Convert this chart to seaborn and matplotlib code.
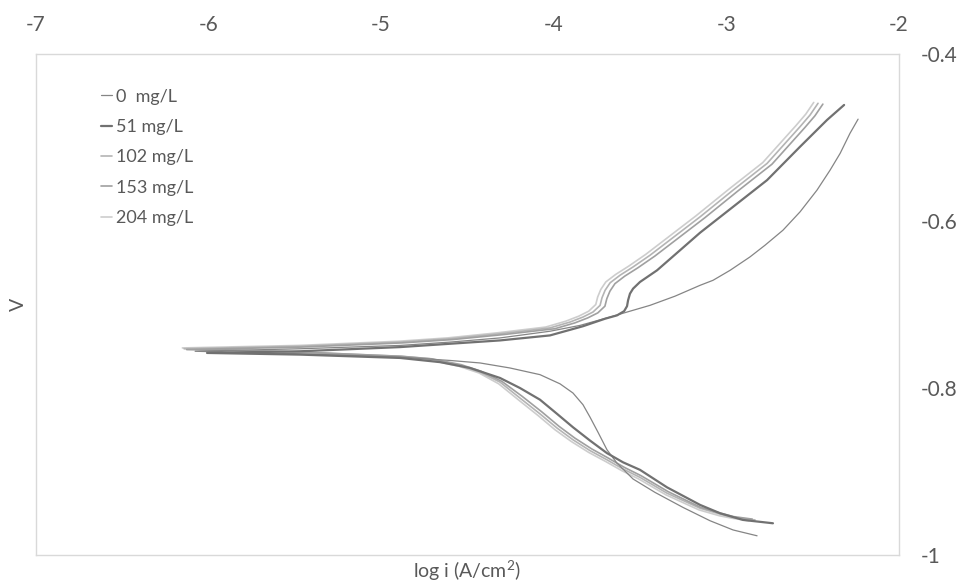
import matplotlib
matplotlib.use("Agg")
import matplotlib.pyplot as plt
import seaborn as sns
import pandas as pd
from matplotlib.lines import Line2D

sns.set_theme(style="white")
plt.rcParams['font.family'] = ['Lato', 'DejaVu Sans']
plt.rcParams['mathtext.fontset'] = 'custom'
plt.rcParams['mathtext.rm'] = 'Lato'
plt.rcParams['mathtext.it'] = 'Lato'

labels = ["0  mg/L", "51 mg/L", "102 mg/L", "153 mg/L", "204 mg/L"]
colors = ["#858585", "#717171", "#b4b4b4", "#a0a0a0", "#cdcdcd"]
widths = [0.9, 1.6, 1.2, 1.2, 1.2]

# log i (A/cm2) and potential (V): anodic end -> Ecorr -> cathodic end
x_0 = [-2.237, -2.284, -2.341, -2.399, -2.475, -2.573, -2.672, -2.776, -2.863, -2.978,
       -3.077, -3.152, -3.297, -3.442, -3.558, -3.673, -3.847, -4.021, -4.310, -4.600,
       -4.889, -5.468, -6.076,
       -5.468, -4.889, -4.600, -4.426, -4.253, -4.079, -3.963, -3.888, -3.830, -3.789,
       -3.743, -3.691, -3.633, -3.540, -3.413, -3.251, -3.094, -2.961, -2.822]
v_0 = [-0.478, -0.495, -0.519, -0.539, -0.563, -0.589, -0.611, -0.629, -0.643, -0.659,
       -0.671, -0.677, -0.690, -0.701, -0.708, -0.715, -0.725, -0.732, -0.740, -0.745,
       -0.749, -0.753, -0.756,
       -0.759, -0.763, -0.767, -0.770, -0.776, -0.784, -0.795, -0.806, -0.820, -0.835,
       -0.853, -0.874, -0.890, -0.909, -0.925, -0.943, -0.959, -0.970, -0.977]

x_51 = [-2.318, -2.417, -2.573, -2.764, -2.961, -3.152, -3.268, -3.401, -3.500, -3.540,
        -3.558, -3.569, -3.575, -3.592, -3.633, -3.702, -3.830, -4.021, -4.310, -4.600,
        -4.889, -5.468, -6.007,
        -5.468, -4.889, -4.658, -4.484, -4.310, -4.195, -4.079, -3.980, -3.888, -3.789,
        -3.691, -3.598, -3.500, -3.343, -3.152, -3.036, -2.903, -2.730]
v_51 = [-0.461, -0.479, -0.511, -0.551, -0.583, -0.614, -0.635, -0.659, -0.673, -0.681,
        -0.687, -0.695, -0.702, -0.708, -0.713, -0.717, -0.726, -0.737, -0.743, -0.747,
        -0.751, -0.756, -0.758,
        -0.760, -0.764, -0.769, -0.776, -0.788, -0.800, -0.814, -0.831, -0.847, -0.863,
        -0.878, -0.889, -0.898, -0.919, -0.940, -0.950, -0.958, -0.962]

x_102 = [-2.469, -2.515, -2.573, -2.764, -2.961, -3.152, -3.297, -3.442, -3.540, -3.616,
         -3.673, -3.702, -3.720, -3.731, -3.772, -3.830, -3.905, -4.021, -4.310, -4.600,
         -4.889, -5.468, -6.140,
         -5.468, -4.889, -4.716, -4.542, -4.426, -4.310, -4.195, -4.079, -3.980, -3.888,
         -3.789, -3.691, -3.598, -3.500, -3.343, -3.152, -3.036, -2.961, -2.834]
v_102 = [-0.459, -0.473, -0.487, -0.531, -0.563, -0.595, -0.618, -0.641, -0.655, -0.665,
         -0.674, -0.683, -0.692, -0.701, -0.709, -0.715, -0.721, -0.728, -0.735, -0.741,
         -0.745, -0.750, -0.753,
         -0.757, -0.762, -0.765, -0.773, -0.781, -0.793, -0.812, -0.831, -0.848, -0.862,
         -0.875, -0.886, -0.897, -0.907, -0.926, -0.944, -0.951, -0.955, -0.958]

x_153 = [-2.441, -2.487, -2.545, -2.736, -2.933, -3.124, -3.269, -3.414, -3.512, -3.588,
         -3.645, -3.674, -3.692, -3.703, -3.744, -3.802, -3.877, -3.993, -4.290, -4.585,
         -4.878, -5.460, -6.125,
         -5.460, -4.880, -4.708, -4.536, -4.420, -4.300, -4.182, -4.066, -3.968, -3.877,
         -3.779, -3.683, -3.591, -3.494, -3.338, -3.148, -3.032, -2.958, -2.850]
v_153 = [-0.460, -0.474, -0.488, -0.532, -0.564, -0.596, -0.619, -0.642, -0.656, -0.666,
         -0.675, -0.684, -0.693, -0.702, -0.710, -0.716, -0.722, -0.729, -0.736, -0.742,
         -0.746, -0.751, -0.754,
         -0.757, -0.762, -0.765, -0.772, -0.780, -0.792, -0.810, -0.829, -0.846, -0.860,
         -0.873, -0.884, -0.895, -0.905, -0.924, -0.943, -0.950, -0.954, -0.957]

x_204 = [-2.494, -2.540, -2.598, -2.789, -2.986, -3.177, -3.322, -3.467, -3.565, -3.641,
         -3.698, -3.727, -3.745, -3.756, -3.797, -3.855, -3.930, -4.046, -4.330, -4.615,
         -4.900, -5.476, -6.150,
         -5.476, -4.898, -4.724, -4.548, -4.432, -4.318, -4.205, -4.090, -3.992, -3.898,
         -3.798, -3.699, -3.605, -3.507, -3.349, -3.158, -3.040, -2.966, -2.870]
v_204 = [-0.458, -0.472, -0.486, -0.530, -0.562, -0.594, -0.617, -0.640, -0.654, -0.664,
         -0.673, -0.682, -0.691, -0.700, -0.708, -0.714, -0.720, -0.727, -0.734, -0.740,
         -0.744, -0.749, -0.752,
         -0.757, -0.763, -0.766, -0.774, -0.782, -0.795, -0.814, -0.833, -0.850, -0.864,
         -0.877, -0.888, -0.899, -0.909, -0.928, -0.946, -0.953, -0.956, -0.959]

xs = [x_0, x_51, x_102, x_153, x_204]
vs = [v_0, v_51, v_102, v_153, v_204]

fig = plt.figure(figsize=(9.61, 5.86), dpi=100)
ax = fig.add_axes([0.037, 0.0529, 0.8985, 0.8549])

for i in [4, 2, 3, 0, 1]:
    df = pd.DataFrame({"logi": xs[i], "V": vs[i]})
    sns.lineplot(data=df, x="logi", y="V", sort=False, estimator=None,
                 color=colors[i], linewidth=widths[i], ax=ax)
    ax.lines[-1].set_solid_joinstyle("round")

ax.set_xlim(-7, -2)
ax.set_ylim(-1, -0.4)
ax.set_xticks([-7, -6, -5, -4, -3, -2])
ax.set_xticklabels(["-7", "-6", "-5", "-4", "-3", "-2"])
ax.set_yticks([-1, -0.8, -0.6, -0.4])
ax.set_yticklabels(["-1", "-0.8", "-0.6", "-0.4"])

tc = "#595959"
ax.xaxis.tick_top()
ax.yaxis.tick_right()
ax.tick_params(axis="x", which="both", length=0, pad=14, labelsize=15, labelcolor=tc)
ax.tick_params(axis="y", which="both", length=0, pad=16, labelsize=15, labelcolor=tc)

ax.xaxis.set_label_position("bottom")
ax.yaxis.set_label_position("left")
ax.set_xlabel("log i (A/cm$^{2}$)", fontsize=14, color=tc, labelpad=3)
ax.set_ylabel("V", fontsize=14, color=tc, labelpad=6)

for s in ax.spines.values():
    s.set_color("#d9d9d9")
    s.set_linewidth(1.0)

leg_handles = [Line2D([0], [0], color=colors[i], linewidth=widths[i]) for i in range(5)]
leg = ax.legend(leg_handles, labels, loc="upper left", bbox_to_anchor=(0.068, 0.945),
                frameon=False, handlelength=0.6, handletextpad=0.2,
                labelspacing=0.79, fontsize=13, borderaxespad=0)
for t in leg.get_texts():
    t.set_color(tc)

fig.savefig("out.png", dpi=100)
